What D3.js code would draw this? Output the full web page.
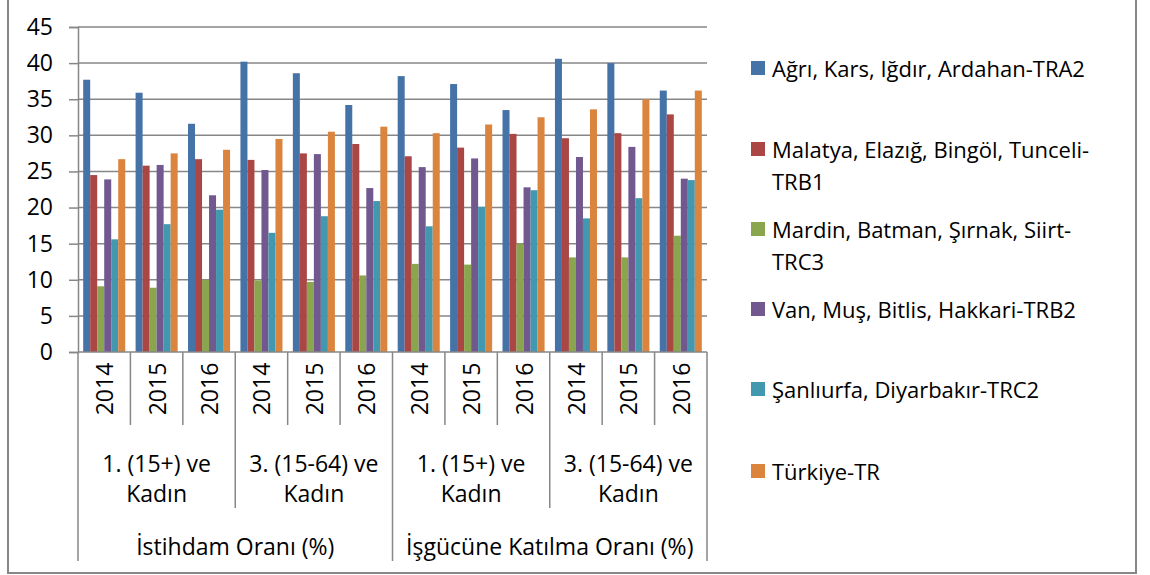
<!DOCTYPE html>
<html lang="tr">
<meta charset="utf-8">
<script src="https://d3js.org/d3.v7.min.js"></script>
<style>
  body { margin: 0; background: #fff; }
  svg text { font-family: "Open Sans", "Noto Sans", sans-serif; fill: #000; }
</style>
<div id="chart"></div>
<script>

// data
var years = ["2014", "2015", "2016"];
var subGroups = [["1. (15+) ve", "Kadın"], ["3. (15-64) ve", "Kadın"]];
var topGroups = ["İstihdam Oranı (%)", "İşgücüne Katılma Oranı (%)"];

var seriesNames = [
  "Ağrı, Kars, Iğdır, Ardahan-TRA2",
  "Malatya, Elazığ, Bingöl, Tunceli-TRB1",
  "Mardin, Batman, Şırnak, Siirt-TRC3",
  "Van, Muş, Bitlis, Hakkari-TRB2",
  "Şanlıurfa, Diyarbakır-TRC2",
  "Türkiye-TR"
];
// legend text as it wraps in the picture
var legendLines = [
  ["Ağrı, Kars, Iğdır, Ardahan-TRA2"],
  ["Malatya, Elazığ, Bingöl, Tunceli-", "TRB1"],
  ["Mardin, Batman, Şırnak, Siirt-", "TRC3"],
  ["Van, Muş, Bitlis, Hakkari-TRB2"],
  ["Şanlıurfa, Diyarbakır-TRC2"],
  ["Türkiye-TR"]
];

var TRA2 = [37.7, 35.9, 31.6, 40.2, 38.6, 34.2, 38.2, 37.1, 33.5, 40.6, 40.0, 36.2];
var TRB1 = [24.5, 25.8, 26.7, 26.6, 27.5, 28.8, 27.1, 28.3, 30.2, 29.6, 30.3, 32.9];
var TRC3 = [9.1, 8.9, 10.0, 9.9, 9.7, 10.6, 12.2, 12.1, 15.0, 13.1, 13.1, 16.1];
var TRB2 = [23.9, 25.9, 21.7, 25.2, 27.4, 22.7, 25.6, 26.8, 22.8, 27.0, 28.4, 24.0];
var TRC2 = [15.6, 17.7, 19.7, 16.5, 18.8, 20.9, 17.4, 20.1, 22.4, 18.5, 21.3, 23.8];
var TR   = [26.7, 27.5, 28.0, 29.5, 30.5, 31.2, 30.3, 31.5, 32.5, 33.6, 35.0, 36.2];

var seriesValues = [TRA2, TRB1, TRC3, TRB2, TRC2, TR];
var colors = ["#4572A7", "#AA4643", "#89A54E", "#71588F", "#4198AF", "#DB843D"];

// 12 categories: top group x sub group x year
var categories = [];
topGroups.forEach(function(t, ti) {
  subGroups.forEach(function(s, si) {
    years.forEach(function(y) {
      categories.push({top: ti, sub: ti * 2 + si, year: y, key: ti + "-" + si + "-" + y});
    });
  });
});

var W = 1150, H = 575;
var plotLeft = 78, plotRight = 707, plotTop = 27, plotBottom = 352;
var gridColor = "#878787";

var svg = d3.select("#chart").append("svg")
  .attr("width", W).attr("height", H);

// outer frame
svg.append("rect")
  .attr("x", 8).attr("y", -3)
  .attr("width", 1128).attr("height", 576)
  .attr("fill", "none")
  .attr("stroke", gridColor)
  .attr("stroke-width", 2);

var y = d3.scaleLinear().domain([0, 45]).range([plotBottom, plotTop]);

var x0 = d3.scaleBand()
  .domain(categories.map(function(d) { return d.key; }))
  .range([plotLeft, plotRight])
  .padding(0);

var x1 = d3.scaleBand()
  .domain(d3.range(seriesNames.length))
  .range([0, x0.bandwidth()])
  .paddingInner(0)
  .paddingOuter(0.74);

// gridlines
svg.append("g")
  .selectAll("line")
  .data(d3.range(5, 46, 5))
  .enter().append("line")
    .attr("x1", plotLeft).attr("x2", plotRight)
    .attr("y1", function(d) { return y(d); })
    .attr("y2", function(d) { return y(d); })
    .attr("stroke", gridColor)
    .attr("stroke-width", 1.5);

// y axis
var yAxis = svg.append("g")
  .attr("transform", "translate(" + plotLeft + ",0)")
  .call(d3.axisLeft(y).tickValues(d3.range(0, 46, 5)).tickSize(9).tickPadding(16));
yAxis.select(".domain").attr("stroke", gridColor).attr("stroke-width", 1.5);
yAxis.selectAll(".tick line").attr("stroke", gridColor).attr("stroke-width", 1.5);
yAxis.selectAll(".tick text")
  .style("font-size", "23px")
  .style("font-family", "'Open Sans', sans-serif")
  .attr("fill", "#000");

// bars
var catG = svg.append("g").selectAll("g")
  .data(categories)
  .enter().append("g")
    .attr("transform", function(d) { return "translate(" + x0(d.key) + ",0)"; });

catG.selectAll("rect")
  .data(function(d, i) {
    return seriesValues.map(function(vals, s) { return {s: s, v: vals[i]}; });
  })
  .enter().append("rect")
    .attr("x", function(d) { return x1(d.s); })
    .attr("width", x1.bandwidth())
    .attr("y", function(d) { return y(d.v); })
    .attr("height", function(d) { return y(0) - y(d.v); })
    .attr("fill", function(d) { return colors[d.s]; });

// x axis table
var xa = svg.append("g");
xa.append("line")
  .attr("x1", plotLeft).attr("x2", plotRight)
  .attr("y1", plotBottom).attr("y2", plotBottom)
  .attr("stroke", gridColor).attr("stroke-width", 1.5);

var step = x0.step();
xa.selectAll(".sep")
  .data(d3.range(0, categories.length + 1))
  .enter().append("line")
    .attr("class", "sep")
    .attr("x1", function(i) { return plotLeft + i * step; })
    .attr("x2", function(i) { return plotLeft + i * step; })
    .attr("y1", plotBottom)
    .attr("y2", function(i) {
      if (i % 6 === 0) return 561;
      if (i % 3 === 0) return 508;
      return 425;
    })
    .attr("stroke", gridColor).attr("stroke-width", 1.5);

// year labels
xa.selectAll(".yr")
  .data(categories)
  .enter().append("text")
    .attr("class", "yr")
    .attr("transform", function(d) {
      return "translate(" + (x0(d.key) + x0.bandwidth() / 2) + ",389) rotate(-90)";
    })
    .attr("text-anchor", "middle")
    .attr("dominant-baseline", "central")
    .style("font-size", "23px")
    .text(function(d) { return d.year; });

// sub group labels
d3.range(topGroups.length * subGroups.length).forEach(function(k) {
  var cx = plotLeft + (k * 3 + 1.5) * step;
  subGroups[k % 2].forEach(function(t, li) {
    xa.append("text")
      .attr("x", cx)
      .attr("y", 463 + li * 30)
      .attr("text-anchor", "middle")
      .attr("dominant-baseline", "central")
      .style("font-size", "23px")
      .text(t);
  });
});

// top group labels
topGroups.forEach(function(t, ti) {
  xa.append("text")
    .attr("x", plotLeft + (ti * 6 + 3) * step)
    .attr("y", 546)
    .attr("text-anchor", "middle")
    .attr("dominant-baseline", "central")
    .style("font-size", "23px")
    .text(t);
});

// legend
var legendY = [68, 149, 229, 309, 389, 471];
var lg = svg.append("g").selectAll("g")
  .data(legendLines)
  .enter().append("g")
    .attr("transform", function(d, i) { return "translate(751," + legendY[i] + ")"; });

lg.append("rect")
  .attr("x", 0).attr("y", -7)
  .attr("width", 14).attr("height", 14)
  .attr("fill", function(d, i) { return colors[i]; });

lg.each(function(lines) {
  var g = d3.select(this);
  lines.forEach(function(t, li) {
    g.append("text")
      .attr("x", 21)
      .attr("y", li * 32)
      .attr("dominant-baseline", "central")
      .style("font-size", "22px")
      .text(t);
  });
});

</script>
</html>
